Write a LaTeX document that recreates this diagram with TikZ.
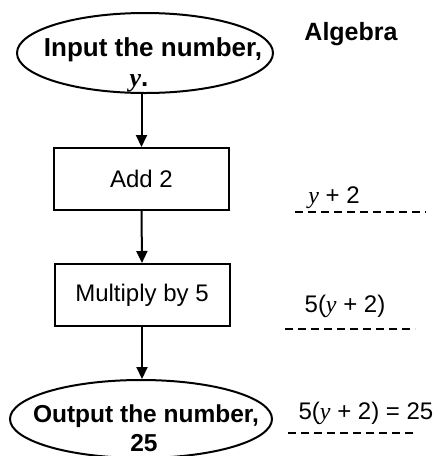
\documentclass[tikz,border=0pt]{standalone}
\usepackage{fontspec}
\setmainfont{Liberation Sans}
\newfontfamily\serifit{Liberation Serif}
\usetikzlibrary{shapes.geometric,arrows.meta}
\newcommand{\vy}{{\serifit\itshape y}}
\newcommand{\vyb}{{\serifit\itshape\bfseries y}}
\begin{document}
\begin{tikzpicture}[x=1pt,y=-1pt,
  oval/.style={draw,line width=2pt,ellipse,inner sep=0pt},
  ovaltext/.style={align=center,inner sep=0pt},
  stepbox/.style={draw,line width=2pt,rectangle,inner sep=0pt,minimum width=175pt,minimum height=62pt,font=\fontsize{24}{28}\selectfont},
  arr/.style={line width=2pt,-{Triangle[length=12pt,width=11pt]}},
  alg/.style={font=\fontsize{24}{28}\selectfont,inner sep=0pt},
  dline/.style={line width=2pt,dash pattern=on 8pt off 5pt}]
\useasboundingbox (0,0) rectangle (440,456);
\node[oval,minimum width=256pt,minimum height=80pt] (in) at (145,53) {};
\node[ovaltext,font=\fontsize{26}{30}\selectfont\bfseries] (intext) at (153,65) {Input the number,\\\vyb.\hspace*{28pt}};
\node[stepbox] (add) at (141.5,179) {Add 2};
\node[stepbox] (mul) at (142,295) {Multiply by 5};
\node[oval,minimum width=262pt,minimum height=78pt] (out) at (141,419) {};
\node[ovaltext,font=\fontsize{24.5}{29}\selectfont\bfseries] (outtext) at (146,428) {Output the number,\\25\hspace*{4pt}};
\draw[arr] (in.south -| add.north) -- (add.north);
\draw[arr] (add.south) -- (mul.north);
\draw[arr] (mul.south) -- (out.north -| mul.south);
\node[alg,font=\fontsize{25}{28}\selectfont\bfseries] (algt) at (351,34) {Algebra};
\node[alg] (e1) at (334,198) {\vy\ + 2};
\node[alg] (e2) at (345,306) {5(\vy\ + 2)};
\node[alg] (e3) at (366,413) {5(\vy\ + 2) = 25};
\coordinate (d1a) at (295,212); \coordinate (d1b) at (426,212);
\coordinate (d2a) at (285,329); \coordinate (d2b) at (415,329);
\coordinate (d3a) at (288,433); \coordinate (d3b) at (417,433);
\draw[dline] (d1a) -- (d1b);
\draw[dline] (d2a) -- (d2b);
\draw[dline] (d3a) -- (d3b);
\end{tikzpicture}
\end{document}
